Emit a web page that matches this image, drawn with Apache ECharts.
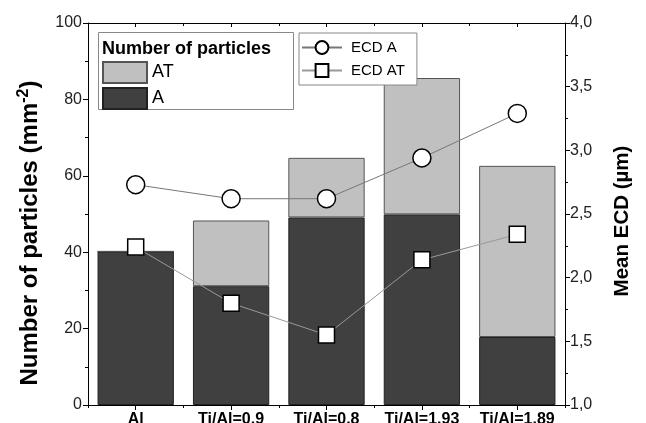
<!DOCTYPE html>
<html>
<head>
<meta charset="utf-8">
<script src="https://cdn.jsdelivr.net/npm/echarts@6/dist/echarts.min.js"></script>
<style>
    html, body { margin: 0; padding: 0; background: #fff; }
    #chart { width: 646px; height: 423px; }
</style>
</head>
<body>
<div id="chart"></div>
<script>
    // values
    var categories = ['Al', 'Ti/Al=0.9', 'Ti/Al=0.8', 'Ti/Al=1.93', 'Ti/Al=1.89'];
    var countA = [40.2, 31.1, 49.1, 49.9, 17.8];
    var countAT = [0, 17.2, 15.6, 35.7, 44.8];
    var ecdA = [2.73, 2.62, 2.62, 2.94, 3.29];
    var ecdAT = [2.24, 1.80, 1.55, 2.14, 2.34];
    var leftTicks = [0, 100, 20];
    var rightTicks = [1, 4, 0.5];

    var font = 'Liberation Sans';
    var chart = echarts.init(document.getElementById('chart'));

    function catAxis(pos, major, inside, len) {
        return {
            type: 'category',
            position: pos,
            data: categories,
            axisLine: {show: major, lineStyle: {color: '#000', width: 1}},
            axisTick: {show: true, alignWithLabel: major, inside: inside, length: len,
                lineStyle: {color: '#000', width: 1}},
            axisLabel: {show: major && pos === 'bottom', interval: 0, margin: 7, color: '#000',
                fontFamily: font, fontSize: 16, fontWeight: 'bold'},
            splitLine: {show: false}
        };
    }

    var option = {
        animation: false,
        backgroundColor: '#fff',
        textStyle: {fontFamily: font},
        grid: {left: 88, right: 81, top: 23, bottom: 18, outerBoundsMode: 'none'},
        xAxis: [
            catAxis('bottom', true, false, 5),
            catAxis('bottom', false, false, 3),
            catAxis('top', true, true, 4),
            catAxis('top', false, true, 3)
        ],
        yAxis: [
            {
                type: 'value', position: 'left',
                min: leftTicks[0], max: leftTicks[1], interval: leftTicks[2],
                axisLine: {show: true, lineStyle: {color: '#000'}},
                axisTick: {show: true, length: 5, lineStyle: {color: '#000'}},
                minorTick: {show: true, splitNumber: 2, length: 3, lineStyle: {color: '#000'}},
                axisLabel: {color: '#222', fontFamily: font, fontSize: 16, margin: 6},
                splitLine: {show: false}
            },
            {
                type: 'value', position: 'right',
                min: rightTicks[0], max: rightTicks[1], interval: rightTicks[2],
                axisLine: {show: true, lineStyle: {color: '#000'}},
                axisTick: {show: true, length: 5, lineStyle: {color: '#000'}},
                minorTick: {show: true, splitNumber: 2, length: 3, lineStyle: {color: '#000'}},
                axisLabel: {color: '#222', fontFamily: font, fontSize: 16, margin: 5,
                    formatter: function (v) { return v.toFixed(1).replace('.', ','); }},
                splitLine: {show: false}
            }
        ],
        legend: [
            {
                data: ['AT', 'A'],
                orient: 'vertical', left: 102, top: 61, padding: 0,
                icon: 'rect',
                itemWidth: 44, itemHeight: 21, itemGap: 3,
                textStyle: {fontFamily: font, fontSize: 18, color: '#000'},
                selectedMode: false
            },
            {
                data: ['ECD A', 'ECD AT'],
                orient: 'vertical', left: 299, top: 33,
                padding: [7, 12, 7, 2],
                borderColor: '#888', borderWidth: 1, backgroundColor: '#fff',
                itemWidth: 40, itemHeight: 16, itemGap: 8,
                textStyle: {fontFamily: font, fontSize: 15, color: '#000', padding: [0, 0, 0, 4]},
                selectedMode: false
            }
        ],
        graphic: [
            {type: 'rect', left: 98, top: 32, z: 3,
                shape: {width: 195, height: 77},
                style: {fill: '#fff', stroke: '#888', lineWidth: 1}},
            {type: 'text', left: 102, top: 40, z: 5,
                style: {text: 'Number of particles', fill: '#000',
                    font: 'bold 18px "Liberation Sans"'}},
            // axis titles
            {type: 'text', x: 30, y: 233, rotation: Math.PI / 2, z: 5,
                style: {text: 'Number of particles (mm{sup|-2})', fill: '#000',
                    font: 'bold 24px "Liberation Sans"', align: 'center', verticalAlign: 'middle',
                    rich: {sup: {font: 'bold 16px "Liberation Sans"', fill: '#000',
                        verticalAlign: 'top', padding: [0, 0, 12, 0]}}}},
            {type: 'text', x: 622, y: 221, rotation: Math.PI / 2, z: 5,
                style: {text: 'Mean ECD (µm)', fill: '#000',
                    font: 'bold 20.5px "Liberation Sans"', align: 'center', verticalAlign: 'middle'}}
        ],
        series: [
            {
                name: 'A', type: 'bar', stack: 'n', barWidth: '80%', data: countA,
                itemStyle: {color: '#404040', borderColor: '#222', borderWidth: 1}
            },
            {
                name: 'AT', type: 'bar', stack: 'n', barWidth: '80%', data: countAT,
                itemStyle: {color: '#c0c0c0', borderColor: '#555', borderWidth: 1}
            },
            {
                name: 'ECD A', type: 'line', yAxisIndex: 1, data: ecdA,
                symbol: 'circle', symbolSize: 18,
                lineStyle: {color: '#777', width: 1},
                itemStyle: {color: '#fff', borderColor: '#000', borderWidth: 1.5}
            },
            {
                name: 'ECD AT', type: 'line', yAxisIndex: 1, data: ecdAT,
                symbol: 'rect', symbolSize: 16,
                lineStyle: {color: '#999', width: 1},
                itemStyle: {color: '#fff', borderColor: '#000', borderWidth: 1.5}
            }
        ]
    };

    chart.setOption(option);
</script>
</body>
</html>
